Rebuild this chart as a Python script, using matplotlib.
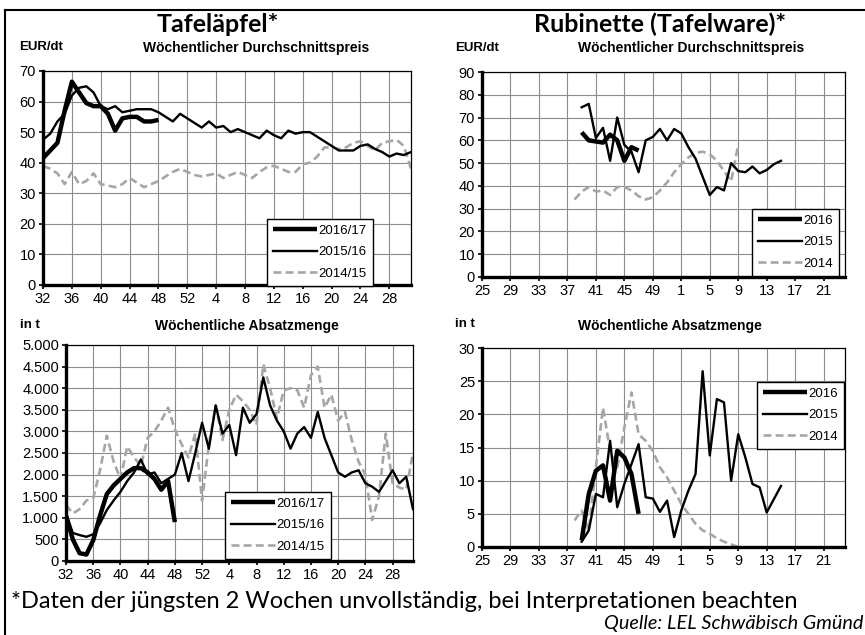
import matplotlib
matplotlib.use("Agg")
import matplotlib.pyplot as plt
from matplotlib.lines import Line2D

# Kalenderwochen auf der x-Achse
weeks_apfel = list(range(32, 53)) + list(range(1, 32))
weeks_rub = list(range(25, 53)) + list(range(1, 25))

# Tafeläpfel: Durchschnittspreis EUR/dt (ab KW 32)
apfel_preis_1617 = [41.5, 44, 46.5, 57, 66.5, 63, 59.5, 58.5, 58.5, 56, 50.5, 54.5, 55, 55, 53.5, 53.5, 54]
apfel_preis_1516 = [47.5, 49.5, 53.5, 56, 62, 64.5, 65, 63, 58.5, 57.5, 58.5, 56.5, 57, 57.5, 57.5, 57.5,
                    56.5, 55, 53.5, 56, 54.5, 53, 51.5, 53.5, 51.5, 52, 50, 51, 50, 49, 48, 50.5, 49, 48,
                    50.5, 49.5, 50, 50, 48.5, 47, 45.5, 44, 44, 44, 45.5, 46, 44.5, 43.5, 42, 43, 42.5, 43.5]
apfel_preis_1415 = [39, 38, 36.5, 33, 37, 33, 34, 36.5, 33, 32.5, 32, 33, 35, 33.5, 32, 33, 34, 35.5, 37,
                    38, 37, 36, 35.5, 36, 36.5, 35, 36, 37, 36, 35, 37, 38.5, 39, 38, 37, 37, 39.5, 40, 42,
                    45, 45, 44.5, 45, 46.5, 47, 45.5, 44, 46.5, 47, 47.5, 45.5, 38]

# Tafeläpfel: Absatzmenge in t (ab KW 32)
apfel_menge_1617 = [1050, 500, 180, 150, 480, 1050, 1550, 1750, 1900, 2050, 2150, 2150, 2050, 1900, 1650, 1850, 900]
apfel_menge_1516 = [1100, 650, 600, 560, 620, 870, 1180, 1400, 1600, 1850, 2050, 2350, 2000, 2050, 1800, 1900,
                    2000, 2500, 1850, 2500, 3200, 2600, 3600, 2950, 3150, 2450, 3550, 3200, 3400, 4250, 3600,
                    3250, 3000, 2600, 2950, 3100, 2850, 3450, 2850, 2450, 2050, 1950, 2050, 2100, 1800, 1720,
                    1600, 1850, 2100, 1800, 1950, 1200]
apfel_menge_1415 = [1300, 1100, 1200, 1400, 1450, 2100, 2900, 2300, 1900, 2650, 2400, 2200, 2850, 3000, 3250,
                    3550, 3050, 2700, 2400, 2950, 1400, 2700, 3600, 2800, 3500, 3850, 3700, 3500, 3150, 4550,
                    4000, 3300, 3950, 4000, 3950, 3550, 4300, 4500, 3550, 3850, 3250, 3450, 2800, 2300, 2000,
                    950, 1500, 2950, 1800, 1700, 1650, 2500]

# Rubinette: Startwoche je Saison
rub_start_2016 = 39
rub_start_2015 = 39
rub_start_2014 = 38
rub_preis_2016 = [63.5, 60, 59.5, 59, 62.5, 60, 51, 57, 55.5]
rub_preis_2015 = [74.5, 76, 61, 65.5, 51, 70, 58, 55, 46, 60, 61.5, 65, 60, 65,
                  63, 57, 52, 44, 36, 39.5, 38, 50, 46.5, 46, 48.5, 45.5, 47, 49.5, 51]
rub_preis_2014 = [34, 37.5, 39.5, 37.5, 38, 36, 39.5, 39.5, 38, 35.5, 34, 35, 38, 41.5, 46,
                  49.5, 52.5, 54.5, 55, 54, 51, 46.5, 42, 58]
rub_menge_2016 = [1, 8, 11.5, 12.3, 7, 14.5, 13.5, 11, 5]
rub_menge_2015 = [0.8, 2.5, 8, 7.5, 16, 6, 9.5, 12.5, 15.5, 7.5, 7.3, 5.3, 7, 1.5,
                  5.5, 8.5, 11, 26.5, 13.8, 22.3, 21.8, 10, 17, 13.5, 9.5, 9, 5.2, 7.2, 9.2]
rub_menge_2014 = [4, 5.5, 2.5, 12, 21, 14.5, 12, 18, 23.3, 17, 16, 14.5, 12, 10.5, 8.5,
                  6.5, 5, 3.5, 2.5, 2, 1.3, 0.8, 0.4, 0]

W, H = 865, 635
STYLES = [dict(color="black", lw=3.2, solid_capstyle="butt", solid_joinstyle="round"),
          dict(color="black", lw=1.7, solid_joinstyle="round"),
          dict(color="#a6a6a6", lw=1.9, linestyle=(0, (3, 1.6)))]
plt.rcParams["font.family"] = ["Liberation Sans", "DejaVu Sans"]


def fig_xy(x, y):
    return x / W, 1 - y / H


def make_axes(fig, x0, y0, x1, y1):
    return fig.add_axes([x0 / W, 1 - y1 / H, (x1 - x0) / W, (y1 - y0) / H])


def style_axes(ax, weeks, yticks, ylabels):
    n = len(weeks)
    ax.set_xlim(0, n - 1)
    ax.set_ylim(yticks[0], yticks[-1])
    xt = list(range(0, n, 4))
    ax.set_xticks(xt)
    ax.set_xticklabels([str(weeks[i]) for i in xt])
    ax.set_yticks(yticks)
    ax.set_yticklabels(ylabels)
    ax.grid(True, color="#8c8c8c", lw=0.8)
    ax.set_axisbelow(True)
    for s in ["top", "right"]:
        ax.spines[s].set_linewidth(0.9)
    for s in ["left", "bottom"]:
        ax.spines[s].set_linewidth(2.4)
    ax.tick_params(direction="out", length=3, width=1.2, labelsize=10.5, pad=2)


def add_legend(ax, fig, labels, x, y):
    handles = [Line2D([], [], **st) for st in STYLES]
    leg = ax.legend(handles, labels, loc="upper left", bbox_to_anchor=fig_xy(x, y),
                    bbox_transform=fig.transFigure, fontsize=9.5, handlelength=3.4,
                    handletextpad=0.1, labelspacing=0.7, borderpad=0.45,
                    fancybox=False, framealpha=1, edgecolor="black")
    leg.get_frame().set_linewidth(1.0)


fig = plt.figure(figsize=(W / 100, H / 100), dpi=100)

# ---- Tafeläpfel Preis
ax = make_axes(fig, 43, 71, 411, 285)
style_axes(ax, weeks_apfel, list(range(0, 71, 10)), [str(v) for v in range(0, 71, 10)])
for data, st in zip([apfel_preis_1415, apfel_preis_1516, apfel_preis_1617], STYLES[::-1]):
    ax.plot(range(len(data)), data, **st)
add_legend(ax, fig, ["2016/17", "2015/16", "2014/15"], 260, 212)

# ---- Tafeläpfel Menge
ax = make_axes(fig, 66, 345, 413, 561)
yt = list(range(0, 5001, 500))
style_axes(ax, weeks_apfel, yt, [f"{v:,}".replace(",", ".") for v in yt])
for data, st in zip([apfel_menge_1415, apfel_menge_1516, apfel_menge_1617], STYLES[::-1]):
    ax.plot(range(len(data)), data, **st)
add_legend(ax, fig, ["2016/17", "2015/16", "2014/15"], 218, 485)

# ---- Rubinette Preis
ax = make_axes(fig, 482, 72, 845, 277)
style_axes(ax, weeks_rub, list(range(0, 91, 10)), [str(v) for v in range(0, 91, 10)])
for data, start, st in zip([rub_preis_2014, rub_preis_2015, rub_preis_2016],
                           [rub_start_2014, rub_start_2015, rub_start_2016], STYLES[::-1]):
    i0 = weeks_rub.index(start)
    ax.plot(range(i0, i0 + len(data)), data, **st)
add_legend(ax, fig, ["2016", "2015", "2014"], 745, 202)

# ---- Rubinette Menge
ax = make_axes(fig, 482, 348, 845, 547)
style_axes(ax, weeks_rub, list(range(0, 31, 5)), [str(v) for v in range(0, 31, 5)])
for data, start, st in zip([rub_menge_2014, rub_menge_2015, rub_menge_2016],
                           [rub_start_2014, rub_start_2015, rub_start_2016], STYLES[::-1]):
    i0 = weeks_rub.index(start)
    ax.plot(range(i0, i0 + len(data)), data, **st)
add_legend(ax, fig, ["2016", "2015", "2014"], 750, 375)

# ---- Texte
title_font = ["Lato", "DejaVu Sans"]
fig.text(*fig_xy(218, 24), "Tafeläpfel*", ha="center", va="center", fontsize=18,
         fontweight="bold", family=title_font)
fig.text(*fig_xy(660, 24), "Rubinette (Tafelware)*", ha="center", va="center", fontsize=18,
         fontweight="bold", family=title_font)
for x, y, s in [(19, 47, "EUR/dt"), (455, 48, "EUR/dt"), (20, 325, "in t"), (455, 324, "in t")]:
    fig.text(*fig_xy(x, y), s, ha="left", va="center", fontsize=9.5, fontweight="bold")
for x, y, s in [(256, 48, "Wöchentlicher Durchschnittspreis"),
                (691, 48, "Wöchentlicher Durchschnittspreis"),
                (247, 326, "Wöchentliche Absatzmenge"),
                (670, 326, "Wöchentliche Absatzmenge")]:
    fig.text(*fig_xy(x, y), s, ha="center", va="center", fontsize=10, fontweight="bold")
fig.text(*fig_xy(11, 602), "*Daten der jüngsten 2 Wochen unvollständig, bei Interpretationen beachten",
         ha="left", va="center", fontsize=17, family=title_font)
fig.text(*fig_xy(863, 624), "Quelle: LEL Schwäbisch Gmünd", ha="right", va="center",
         fontsize=14.3, style="italic", family=title_font)

# Rahmen links und oben
fig.add_artist(Line2D([5 / W, 5 / W], [0, 1 - 10 / H], transform=fig.transFigure, color="black", lw=1.5))
fig.add_artist(Line2D([5 / W, 1], [1 - 10 / H, 1 - 10 / H], transform=fig.transFigure, color="black", lw=1.5))

fig.savefig("out.png", dpi=100)
